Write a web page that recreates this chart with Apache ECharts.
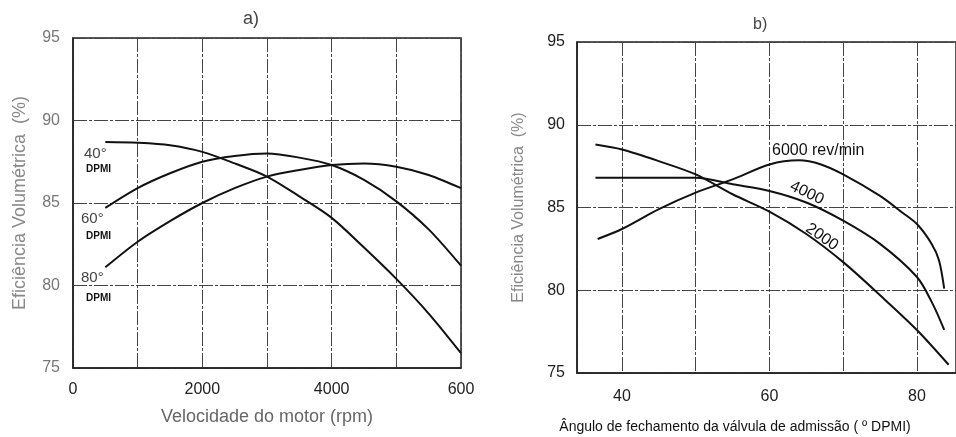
<!DOCTYPE html>
<html>
<head>
<meta charset="utf-8">
<script src="https://cdn.jsdelivr.net/npm/echarts@6/dist/echarts.min.js"></script>
<style>
  html, body { margin: 0; padding: 0; background: #fff; }
  #chart { width: 956px; height: 437px; }
</style>
</head>
<body>
<div id="chart"></div>
<script>
// a) eficiencia x velocidade, uma curva por angulo de fechamento
var rpm = [500, 1000, 1500, 2000, 2500, 3000, 3500, 4000, 4500, 5000, 5500, 6000];
var dpmi40 = [88.7, 88.65, 88.5, 88.1, 87.4, 86.6, 85.4, 84.1, 82.3, 80.4, 78.3, 75.9];
var dpmi60 = [84.7, 85.9, 86.8, 87.5, 87.85, 88.0, 87.75, 87.3, 86.4, 85.1, 83.4, 81.2];
var dpmi80 = [81.1, 82.65, 83.9, 85.0, 85.9, 86.6, 87.0, 87.3, 87.4, 87.2, 86.7, 85.9];
var rpmTickLabels = ['0', '', '2000', '', '4000', '', '600'];

// b) eficiencia x angulo, uma curva por rotacao
var ang2000 = [36.4, 40, 45, 50, 55, 60, 65, 70, 75, 80, 84.3];
var eff2000 = [88.8, 88.5, 87.8, 87.0, 85.8, 84.75, 83.4, 81.7, 79.7, 77.6, 75.5];
var ang4000 = [36.4, 40, 45, 50, 55, 60, 65, 70, 75, 80, 82, 83.7];
var eff4000 = [86.8, 86.8, 86.8, 86.8, 86.4, 86.0, 85.3, 84.2, 82.8, 80.8, 79.3, 77.6];
var ang6000 = [36.7, 40, 45, 50, 55, 60, 64, 67, 70, 75, 78, 80, 82, 83, 83.7];
var eff6000 = [83.1, 83.7, 84.9, 85.9, 86.7, 87.6, 87.85, 87.6, 87.0, 85.7, 84.7, 84.0, 82.8, 81.8, 80.1];
var angTickLabels = [40, 60, 80];

function pairs(xs, ys) {
  return xs.map(function (x, i) { return [x, ys[i]]; });
}

var myChart = echarts.init(document.getElementById('chart'));

var gridLine = { show: true, lineStyle: { color: '#444', width: 1, type: [14, 2, 3, 2] } };
var curve = { width: 2, color: '#111' };

function line(name, x, y, data) {
  return {
    name: name,
    type: 'line',
    xAxisIndex: x,
    yAxisIndex: y,
    smooth: 0.3,
    showSymbol: false,
    lineStyle: curve,
    data: data
  };
}

var option = {
  backgroundColor: '#fff',
  animation: false,
  title: [
    { text: 'a)', left: 238, top: 5, textStyle: { fontFamily: 'Liberation Sans', fontSize: 18, fontWeight: 'normal', color: '#444' } },
    { text: 'b)', left: 748, top: 12, textStyle: { fontFamily: 'Liberation Sans', fontSize: 16, fontWeight: 'normal', color: '#444' } }
  ],
  grid: [
    { left: 73, top: 38, width: 388, height: 330, show: true, borderColor: '#222', borderWidth: 1.5 },
    { left: 577, top: 42, right: 0, height: 331, show: true, borderColor: '#222', borderWidth: 1.5 }
  ],
  xAxis: [
    {
      gridIndex: 0,
      type: 'value',
      min: 0,
      max: 6000,
      interval: 1000,
      name: 'Velocidade do motor (rpm)',
      nameLocation: 'middle',
      nameGap: 40,
      nameTextStyle: { fontFamily: 'Liberation Sans', fontSize: 18, color: '#666' },
      axisLine: { show: true, lineStyle: { color: '#222', width: 1.5 } },
      axisTick: { show: false },
      axisLabel: {
        margin: 14,
        fontFamily: 'Liberation Sans', fontSize: 16, color: '#222',
        formatter: function (v) { return rpmTickLabels[Math.round(v / 1000)]; }
      },
      splitLine: gridLine
    },
    {
      gridIndex: 1,
      type: 'value',
      min: 33.9,
      max: 85.3,
      axisLine: { show: true, lineStyle: { color: '#222', width: 1.5 } },
      axisTick: { show: false },
      axisLabel: {
        margin: 16,
        showMinLabel: false, showMaxLabel: false,
        fontFamily: 'Liberation Sans', fontSize: 16, color: '#222',
        formatter: function (v) { return angTickLabels.indexOf(v) >= 0 ? String(v) : ''; }
      },
      splitLine: gridLine
    }
  ],
  yAxis: [
    {
      gridIndex: 0,
      type: 'value',
      min: 75,
      max: 95,
      interval: 5,
      name: 'Eficiência Volumétrica  (%)',
      nameLocation: 'middle',
      nameRotate: 90,
      nameGap: 44,
      nameTextStyle: { fontFamily: 'Liberation Sans', fontSize: 18, color: '#888' },
      axisLine: { show: true, lineStyle: { color: '#222', width: 1.5 } },
      axisTick: { show: false },
      axisLabel: { margin: 13, fontFamily: 'Liberation Sans', fontSize: 16, color: '#777' },
      splitLine: gridLine
    },
    {
      gridIndex: 1,
      type: 'value',
      min: 75,
      max: 95,
      interval: 5,
      name: 'Eficiência Volumétrica  (%)',
      nameLocation: 'middle',
      nameRotate: 90,
      nameGap: 50,
      nameTextStyle: { fontFamily: 'Liberation Sans', fontSize: 16, color: '#888' },
      axisLine: { show: true, lineStyle: { color: '#222', width: 1.5 } },
      axisTick: { show: false },
      axisLabel: { margin: 12, fontFamily: 'Liberation Sans', fontSize: 16, color: '#222' },
      splitLine: gridLine
    }
  ],
  graphic: [
    { type: 'text', left: 84, top: 146, style: { text: '40°', font: '15px "Liberation Sans"', fill: '#444' } },
    { type: 'text', left: 86, top: 164, style: { text: 'DPMI', font: 'bold 10px "Liberation Sans"', fill: '#111' } },
    { type: 'text', left: 81, top: 211, style: { text: '60°', font: '15px "Liberation Sans"', fill: '#444' } },
    { type: 'text', left: 86, top: 231, style: { text: 'DPMI', font: 'bold 10px "Liberation Sans"', fill: '#111' } },
    { type: 'text', left: 81, top: 270, style: { text: '80°', font: '15px "Liberation Sans"', fill: '#444' } },
    { type: 'text', left: 86, top: 293, style: { text: 'DPMI', font: 'bold 10px "Liberation Sans"', fill: '#111' } },
    { type: 'text', left: 772, top: 143, style: { text: '6000 rev/min', font: '16px "Liberation Sans"', fill: '#111' } },
    { type: 'text', x: 807, y: 193, rotation: -0.45, style: { text: '4000', font: '16px "Liberation Sans"', fill: '#111', align: 'center', verticalAlign: 'middle' } },
    { type: 'text', x: 822, y: 237, rotation: -0.6, style: { text: '2000', font: '16px "Liberation Sans"', fill: '#111', align: 'center', verticalAlign: 'middle' } },
    { type: 'text', x: 735, y: 427, style: { text: 'Ângulo de fechamento da válvula de admissão ( º DPMI)', font: '14px "Liberation Sans"', fill: '#111', align: 'center', verticalAlign: 'middle' } }
  ],
  series: [
    line('40° DPMI', 0, 0, pairs(rpm, dpmi40)),
    line('60° DPMI', 0, 0, pairs(rpm, dpmi60)),
    line('80° DPMI', 0, 0, pairs(rpm, dpmi80)),
    line('2000', 1, 1, pairs(ang2000, eff2000)),
    line('4000', 1, 1, pairs(ang4000, eff4000)),
    line('6000 rev/min', 1, 1, pairs(ang6000, eff6000))
  ]
};
myChart.setOption(option, true);
</script>
</body>
</html>
